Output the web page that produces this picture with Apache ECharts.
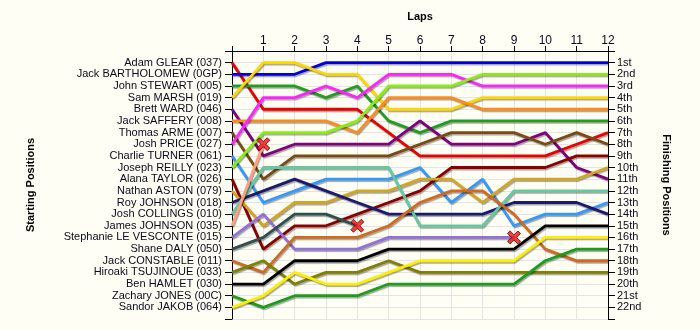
<!DOCTYPE html>
<html><head><meta charset="utf-8">
<script src="https://cdn.jsdelivr.net/npm/echarts@6/dist/echarts.min.js"></script>
<style>html,body{margin:0;padding:0;background:#fefef4;}#c{width:700px;height:330px;}</style>
</head><body><div id="c"></div>
<script>
// Lap numbers
const laps = [0,1,2,3,4,5,6,7,8,9,10,11,12];
// Drivers in starting order
const drivers = [
  'Adam GLEAR (037)','Jack BARTHOLOMEW (0GP)','John STEWART (005)','Sam MARSH (019)',
  'Brett WARD (046)','Jack SAFFERY (008)','Thomas ARME (007)','Josh PRICE (027)',
  'Charlie TURNER (061)','Joseph REILLY (023)','Alana TAYLOR (026)','Nathan ASTON (079)',
  'Roy JOHNSON (018)','Josh COLLINGS (010)','James JOHNSON (035)','Stephanie LE VESCONTE (015)',
  'Shane DALY (050)','Jack CONSTABLE (011)','Hiroaki TSUJINOUE (033)','Ben HAMLET (030)',
  'Zachary JONES (00C)','Sandor JAKOB (064)'
];
const finishLabels = ['1st','2nd','3rd','4th','5th','6th','7th','8th','9th','10th','11th',
  '12th','13th','14th','15th','16th','17th','18th','19th','20th','21st','22nd'];
const colors = ['#ee0000','#0000dd','#1f9f1f','#ffd700','#800080','#ff8c1a','#7a4a12','#ff22ff',
  '#3399ff','#88ee11','#8b0000','#d4a520','#1a1a6e','#66c8a0','#ffa07a','#9370db',
  '#2f4f4f','#d2691e','#808000','#000000','#1a9e1a','#ffee00'];

// Position at each lap (lap 0 = start); shorter arrays = retired
const pGlear       = [1,5,5,5,5,7,9,9,9,9,9,8,7];
const pBartholomew = [2,2,2,1,1,1,1,1,1,1,1,1,1];
const pStewart     = [3,3,3,4,3,6,7,6,6,6,6,6,6];
const pMarsh       = [4,1,1,2,2,5,5,5,4,4,4,4,4];
const pWard        = [5,9,8,8,8,8,6,8,8,8,7,10,11];
const pSaffery     = [6,6,6,6,7,4,4,4,5,5,5,5,5];
const pArme        = [7,11,9,9,9,9,8,7,7,7,8,7,8];
const pPrice       = [8,4,4,3,4,2,2,2,3,3,3,3,3];
const pTurner      = [9,13,12,11,11,11,10,13,11,15,14,14,13];
const pReilly      = [10,7,7,7,6,3,3,3,2,2,2,2,2];
const pTaylor      = [11,17,15,15,14,13,12,10,10,10,10,9,9];
const pAston       = [12,15,13,13,12,12,11,11,13,11,11,11,10];
const pRJohnson    = [13,12,11,12,13,14,14,14,14,13,13,13,14];
const pCollings    = [14,10,10,10,10,10,15,15,15,12,12,12,12];
const pJJohnson    = [15,8];
const pLeVesconte  = [16,14,17,17,17,16,16,16,16,16];
const pDaly        = [17,16,14,14,15];
const pConstable   = [18,19,16,16,16,15,13,12,12,14,17,18,18];
const pTsujinoue   = [19,18,20,19,19,18,19,19,19,19,19,19,19];
const pHamlet      = [20,20,18,18,18,17,17,17,17,17,15,15,15];
const pJones       = [21,22,21,21,21,20,20,20,20,20,18,17,17];
const pJakob       = [22,21,19,20,20,19,18,18,18,18,16,16,16];

const positions = [pGlear,pBartholomew,pStewart,pMarsh,pWard,pSaffery,pArme,pPrice,pTurner,pReilly,
  pTaylor,pAston,pRJohnson,pCollings,pJJohnson,pLeVesconte,pDaly,pConstable,pTsujinoue,pHamlet,pJones,pJakob];

const series = positions.map((p,i)=>({
  type:'line', name:drivers[i], symbol:'none', silent:true,
  data:p.map((v,k)=>[laps[k],v]),
  lineStyle:{color:colors[i],width:2.8,shadowColor:'rgba(0,0,0,0.35)',shadowBlur:1,shadowOffsetX:1,shadowOffsetY:1.5},
  z:2
}));
const retired = positions.filter(p=>p.length<laps.length).map(p=>[laps[p.length-1],p[p.length-1]]);
series.push({
  type:'scatter', data:retired, z:5, silent:true,
  symbol:'path://M2,0 L5,3 L8,0 L10,2 L7,5 L10,8 L8,10 L5,7 L2,10 L0,8 L3,5 L0,2 Z',
  symbolSize:13, itemStyle:{color:'#ee1111',borderColor:'#660000',borderWidth:1}
});

const labelFont = {fontFamily:'Liberation Sans, Arial, sans-serif',fontSize:11,color:'#0a0a1a'};
const nameFont = {fontFamily:'Liberation Sans, Arial, sans-serif',fontSize:11,fontWeight:'bold',color:'#000'};
const chart = echarts.init(document.getElementById('c'),null,{renderer:'canvas'});
chart.setOption({
  animation:false,
  backgroundColor:'#fefef4',
  grid:{left:232,right:92,top:51,bottom:11},
  xAxis:{type:'value',position:'top',min:0,max:12,interval:1,
    name:'Laps',nameLocation:'middle',nameGap:29,nameTextStyle:nameFont,
    axisLine:{show:true,lineStyle:{color:'#000',width:1}},
    axisTick:{show:true,length:5,lineStyle:{color:'#000'}},
    axisLabel:{margin:4,fontSize:12,formatter:v=>v===0?'':String(v),fontFamily:'Liberation Sans, Arial, sans-serif',color:'#0a0a1a'},
    splitLine:{show:true,lineStyle:{color:'#e4e4e4',width:1}}},
  yAxis:[
    {type:'value',position:'left',min:0,max:23,interval:1,inverse:true,
     name:'Starting Positions',nameLocation:'middle',nameRotate:90,nameGap:196,nameTextStyle:nameFont,
     axisLine:{show:true,lineStyle:{color:'#000'}},
     axisTick:{show:true,length:7,lineStyle:{color:'#000'}},
     axisLabel:Object.assign({margin:10,formatter:v=>(v>=1&&v<=22)?drivers[v-1]:''},labelFont),
     splitLine:{show:true,lineStyle:{color:'#e4e4e4',width:1}}},
    {type:'value',position:'right',min:0,max:23,interval:1,inverse:true,
     name:'Finishing Positions',nameLocation:'middle',nameRotate:-90,nameGap:53,nameTextStyle:nameFont,
     axisLine:{show:true,lineStyle:{color:'#000'}},
     axisTick:{show:true,length:7,lineStyle:{color:'#000'}},
     axisLabel:Object.assign({margin:9,formatter:v=>(v>=1&&v<=22)?finishLabels[v-1]:''},labelFont),
     splitLine:{show:false}}
  ],
  series:series
});
</script></body></html>
